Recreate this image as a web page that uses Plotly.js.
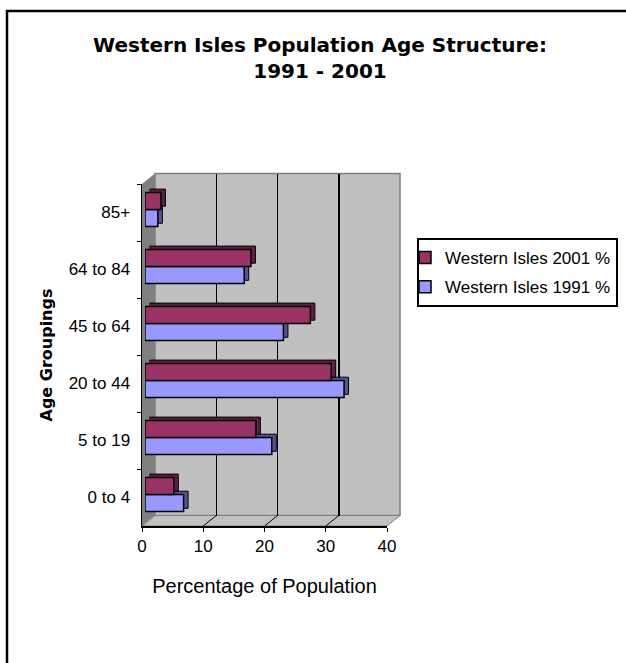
<!DOCTYPE html>
<html>
<head>
<meta charset="utf-8">
<script src="https://cdn.plot.ly/plotly-3.0.1.min.js"></script>
<style>
  html, body { margin: 0; padding: 0; background: #ffffff; }
  #chart { width: 626px; height: 663px; }
</style>
</head>
<body>
<div id="chart"></div>
<script>
// Age groups, bottom to top
const ageGroups = ["0 to 4", "5 to 19", "20 to 44", "45 to 64", "64 to 84", "85+"];
// Share of population (%)
const pct2001 = [4.7, 18.1, 30.4, 27.0, 17.3, 2.6];
const pct1991 = [6.3, 20.7, 32.5, 22.6, 16.2, 2.1];
// Percentage axis ticks
const xTicks = [0, 10, 20, 30, 40];
const xRange = [0, 40];

const W = 626, H = 663;
// pixel -> paper helpers (margins are zero, so paper == page)
const px = v => v / W;
const py = v => 1 - v / H;
const dom = (a, b) => [px(a), px(b)];
const domY = (top, bottom) => [py(bottom), py(top)];
const pt = (x, y) => px(x) + ',' + py(y);

// Box geometry of the pseudo-3D frame
const front = { l: 142, r: 387, t: 184, b: 526 };
const depth = { dx: 13, dy: -10.5 };
const back = { l: front.l + depth.dx, r: front.r + depth.dx, t: front.t + depth.dy, b: front.b + depth.dy };
const barOff = { dx: 3, dy: -3 };        // bars sit slightly behind the front plane
const sideOff = { dx: 4.5, dy: -3.3 };   // visible bar depth (top + right faces)

const colors = { y2001: '#993366', y1991: '#9999ff', s2001: '#5c2142', s1991: '#55558f' };
const catRange = [-0.5, ageGroups.length - 0.5];

const traces = [
  // keeps the back-wall subplot alive
  { type: 'scatter', x: [0], y: [0], xaxis: 'x', yaxis: 'y', mode: 'markers',
    marker: { opacity: 0 }, showlegend: false, hoverinfo: 'skip' },
  // depth faces of the bars
  { type: 'bar', orientation: 'h', x: pct1991, y: ageGroups, xaxis: 'x2', yaxis: 'y2',
    marker: { color: colors.s1991, line: { color: '#000', width: 1 } }, showlegend: false, hoverinfo: 'skip' },
  { type: 'bar', orientation: 'h', x: pct2001, y: ageGroups, xaxis: 'x2', yaxis: 'y2',
    marker: { color: colors.s2001, line: { color: '#000', width: 1 } }, showlegend: false, hoverinfo: 'skip' },
  // front faces
  { type: 'bar', orientation: 'h', name: 'Western Isles 1991 %', x: pct1991, y: ageGroups,
    xaxis: 'x3', yaxis: 'y3', legendrank: 2, legendgroup: 'y1991',
    marker: { color: colors.y1991, line: { color: '#000', width: 1.5 } } },
  { type: 'bar', orientation: 'h', name: 'Western Isles 2001 %', x: pct2001, y: ageGroups,
    xaxis: 'x3', yaxis: 'y3', legendrank: 1, legendgroup: 'y2001',
    marker: { color: colors.y2001, line: { color: '#000', width: 1.5 } } },
  // registers the categories on the labelled front axis
  { type: 'scatter', x: ageGroups.map(() => 0), y: ageGroups, xaxis: 'x4', yaxis: 'y4',
    mode: 'markers', marker: { opacity: 0 }, showlegend: false, hoverinfo: 'skip' }
];

const hidden = { visible: false, fixedrange: true };
const tickFont = { family: 'Liberation Sans, Arial, sans-serif', size: 17, color: '#000' };

// walls and floor of the frame
const shapes = [
  { type: 'path', xref: 'paper', yref: 'paper', layer: 'below',
    path: `M${pt(front.l, front.t)} L${pt(back.l, back.t)} L${pt(back.l, back.b)} L${pt(front.l, front.b)} Z`,
    fillcolor: '#808080', line: { width: 0 } },
  { type: 'rect', xref: 'paper', yref: 'paper', layer: 'below',
    x0: px(back.l), x1: px(back.r), y0: py(back.b), y1: py(back.t),
    fillcolor: '#c0c0c0', line: { color: '#808080', width: 1.5 } },
  { type: 'path', xref: 'paper', yref: 'paper', layer: 'below',
    path: `M${pt(front.l, front.b)} L${pt(back.l, back.b)} L${pt(back.r, back.b)} L${pt(front.r, front.b)} Z`,
    fillcolor: '#c0c0c0', line: { color: '#808080', width: 1 } },
  // chart frame (left and top edges)
  { type: 'path', xref: 'paper', yref: 'paper', layer: 'above',
    path: `M${pt(7, 663)} L${pt(7, 11)} L${pt(626, 11)}`,
    line: { color: '#000', width: 2.5 } }
];
// floor lines running back from each inner tick
const unit = (front.r - front.l) / (xRange[1] - xRange[0]);
xTicks.slice(1, -1).forEach(v => {
  shapes.push({ type: 'line', xref: 'paper', yref: 'paper', layer: 'below',
    x0: px(front.l + v * unit), y0: py(front.b), x1: px(back.l + v * unit), y1: py(back.b),
    line: { color: '#000', width: 1 } });
});

const layout = {
  width: W, height: H,
  margin: { l: 0, r: 0, t: 0, b: 0 },
  paper_bgcolor: '#ffffff',
  plot_bgcolor: 'rgba(0,0,0,0)',
  hovermode: false,
  barmode: 'group',
  bargap: 0.4,
  bargroupgap: 0,
  title: {
    text: 'Western Isles Population Age Structure:<br>1991 - 2001',
    font: { family: 'DejaVu Sans, sans-serif', size: 20, color: '#000', weight: 'bold' },
    x: px(320), xanchor: 'center', y: py(52), yanchor: 'top', yref: 'container'
  },
  // back wall with gridlines
  xaxis: { domain: dom(back.l, back.r), anchor: 'y', range: xRange, tickvals: xTicks.slice(1, -1),
    showgrid: true, gridcolor: '#000', gridwidth: 1.5, showticklabels: false, ticks: '',
    showline: false, zeroline: false, fixedrange: true },
  yaxis: Object.assign({ domain: domY(back.t, back.b), anchor: 'x', range: [0, 1] }, hidden),
  // bar depth faces
  xaxis2: Object.assign({ domain: dom(front.l + barOff.dx + sideOff.dx, front.r + barOff.dx + sideOff.dx),
    anchor: 'y2', range: xRange }, hidden),
  yaxis2: Object.assign({ domain: domY(front.t + barOff.dy + sideOff.dy, front.b + barOff.dy + sideOff.dy),
    anchor: 'x2', type: 'category', categoryorder: 'array', categoryarray: ageGroups, range: catRange }, hidden),
  // bar front faces
  xaxis3: Object.assign({ domain: dom(front.l + barOff.dx, front.r + barOff.dx), anchor: 'y3', range: xRange }, hidden),
  yaxis3: Object.assign({ domain: domY(front.t + barOff.dy, front.b + barOff.dy), anchor: 'x3',
    type: 'category', categoryorder: 'array', categoryarray: ageGroups, range: catRange }, hidden),
  // labelled front axes
  xaxis4: { domain: dom(front.l, front.r), anchor: 'y4', range: xRange, tickvals: xTicks,
    ticks: 'outside', ticklen: 4, tickcolor: '#000', showline: true, linecolor: '#000', linewidth: 1.5,
    showgrid: false, zeroline: false, tickfont: tickFont, fixedrange: true,
    title: { text: 'Percentage of Population', standoff: 24,
      font: { family: 'Liberation Sans, Arial, sans-serif', size: 20, color: '#000' } } },
  yaxis4: { domain: domY(front.t, front.b), anchor: 'x4', type: 'category', categoryorder: 'array',
    categoryarray: ageGroups, range: catRange, tickson: 'boundaries',
    ticks: 'outside', ticklen: 4, tickcolor: '#000', showline: true, linecolor: '#000', linewidth: 1.5,
    showgrid: false, zeroline: false, tickfont: tickFont, fixedrange: true, ticklabelstandoff: 7,
    title: { text: 'Age Groupings', standoff: 12,
      font: { family: 'DejaVu Sans, sans-serif', size: 16, color: '#000', weight: 'bold' } } },
  showlegend: true,
  legend: {
    x: px(417), y: py(238), xanchor: 'left', yanchor: 'top',
    bgcolor: '#ffffff', bordercolor: '#000', borderwidth: 2,
    font: tickFont, indentation: -14, tracegroupgap: 4
  },
  shapes: shapes
};

Plotly.newPlot('chart', traces, layout, { staticPlot: true, displayModeBar: false });
</script>
</body>
</html>
